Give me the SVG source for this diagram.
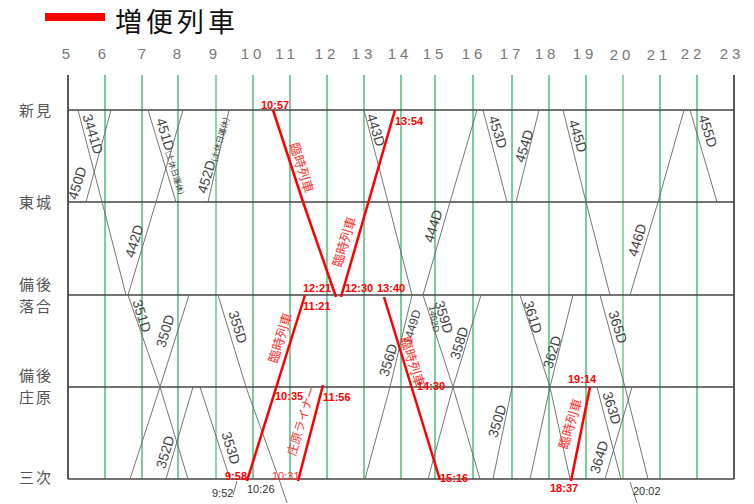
<svg xmlns="http://www.w3.org/2000/svg" width="754" height="504" viewBox="0 0 754 504">
<style>
.hr{font-family:"Liberation Sans",Arial,sans-serif;font-size:15px;fill:#777;text-anchor:middle;letter-spacing:4px}
.st{font-family:"Noto Sans CJK JP","Noto Sans",sans-serif;font-size:15px;letter-spacing:2px;fill:#555}
.gl{stroke:#4cbf7a;stroke-width:1.5}
.gl2{stroke:#8fd8a8;stroke-width:2}
.sl{stroke:#444;stroke-width:1.3}
.ax{stroke:#222;stroke-width:1.5}
.tr{fill:none;stroke:#666;stroke-width:0.9}
.tl{font-family:"Liberation Sans",Arial,sans-serif;font-size:14px;fill:#444;text-anchor:middle}
.ts{font-family:"Noto Sans CJK JP",sans-serif;font-size:8px;fill:#444}
.rl{fill:none;stroke:#f00;stroke-width:2.5}
.rlab{font-family:"Noto Sans CJK JP",sans-serif;font-size:13px;fill:#f33;text-anchor:middle}
.rt{font-family:"Liberation Sans",Arial,sans-serif;font-size:11px;font-weight:bold;fill:#f00}
.rtn{font-family:"Liberation Sans",Arial,sans-serif;font-size:11px;fill:#f33}
.bt{font-family:"Liberation Sans",Arial,sans-serif;font-size:11px;fill:#333}
</style>
<g id="legend">
<rect x="45" y="13" width="60" height="8" fill="#f00"/>
<text x="115" y="32" font-family="Noto Sans CJK JP,sans-serif" font-size="27" letter-spacing="4" fill="#111">増便列車</text>
</g>
<g id="hours">
<text class="hr" x="68" y="59">5</text>
<text class="hr" x="104" y="59">6</text>
<text class="hr" x="144" y="59">7</text>
<text class="hr" x="179" y="59">8</text>
<text class="hr" x="215" y="59">9</text>
<text class="hr" x="253" y="59">10</text>
<text class="hr" x="287" y="59">11</text>
<text class="hr" x="327" y="59">12</text>
<text class="hr" x="364" y="59">13</text>
<text class="hr" x="400" y="59">14</text>
<text class="hr" x="435" y="59">15</text>
<text class="hr" x="474" y="59">16</text>
<text class="hr" x="512" y="59">17</text>
<text class="hr" x="547" y="59">18</text>
<text class="hr" x="585" y="59">19</text>
<text class="hr" x="622" y="60">20</text>
<text class="hr" x="659" y="60">21</text>
<text class="hr" x="693" y="59">22</text>
<text class="hr" x="732" y="59">23</text>
</g>
<g id="grid">
<line class="gl" x1="105" y1="75" x2="105" y2="479"/>
<line class="gl" x1="142" y1="75" x2="142" y2="479"/>
<line class="gl" x1="178" y1="75" x2="178" y2="479"/>
<line class="gl2" x1="216" y1="75" x2="216" y2="479"/>
<line class="gl" x1="253" y1="75" x2="253" y2="479"/>
<line class="gl" x1="290" y1="75" x2="290" y2="479"/>
<line class="gl" x1="327" y1="75" x2="327" y2="479"/>
<line class="gl" x1="364" y1="75" x2="364" y2="479"/>
<line class="gl" x1="401" y1="75" x2="401" y2="479"/>
<line class="gl" x1="435" y1="75" x2="435" y2="479"/>
<line class="gl" x1="473" y1="75" x2="473" y2="479"/>
<line class="gl" x1="512" y1="75" x2="512" y2="479"/>
<line class="gl" x1="549" y1="75" x2="549" y2="479"/>
<line class="gl" x1="586" y1="75" x2="586" y2="479"/>
<line class="gl2" x1="623" y1="75" x2="623" y2="479"/>
<line class="gl" x1="660" y1="75" x2="660" y2="479"/>
<line class="gl" x1="697" y1="75" x2="697" y2="479"/>
<line class="ax" x1="68" y1="75" x2="68" y2="479"/>
<line class="ax" x1="734" y1="75" x2="734" y2="479"/>
</g>
<g id="st-niimi"><line class="sl" x1="68" y1="110" x2="734" y2="110"/><text class="st" x="19" y="116">新見</text></g>
<g id="st-tojo"><line class="sl" x1="68" y1="202" x2="734" y2="202"/><text class="st" x="19" y="208">東城</text></g>
<g id="st-bingo-ochiai"><line class="sl" x1="68" y1="295" x2="734" y2="295"/><text class="st"><tspan x="19" y="290">備後</tspan><tspan x="19" y="312">落合</tspan></text></g>
<g id="st-bingo-shobara"><line class="sl" x1="68" y1="387" x2="734" y2="387"/><text class="st"><tspan x="19" y="381">備後</tspan><tspan x="19" y="403">庄原</tspan></text></g>
<g id="st-miyoshi"><line class="sl" x1="68" y1="479" x2="734" y2="479"/><text class="st" x="19" y="483">三次</text></g>
<g id="connectors">
<g id="t3441D"><polyline class="tr" points="78,110 102,202 126,295"/><text class="tl" transform="translate(93,134) rotate(73)" dy="5">3441D</text></g>
<g id="t450D"><polyline class="tr" points="86,202 111,110"/><text class="tl" transform="translate(77,183) rotate(-73)" dy="5">450D</text></g>
<g id="t451D"><polyline class="tr" points="148,110 176,202"/><text class="tl" transform="translate(172,156) rotate(73)" dy="5">451D<tspan class="ts">(土休日運休)</tspan></text></g>
<g id="t442D"><polyline class="tr" points="128,295 156,202 183,110"/><text class="tl" transform="translate(134,241) rotate(-73)" dy="5">442D</text></g>
<g id="t452D"><polyline class="tr" points="208,202 229,110"/><text class="tl" transform="translate(213,155) rotate(-73)" dy="5">452D<tspan class="ts">(土休日運休)</tspan></text></g>
<g id="t351D"><polyline class="tr" points="128,295 160,387 188,479"/><text class="tl" transform="translate(142,316) rotate(73)" dy="5">351D</text></g>
<g id="t350D-1"><polyline class="tr" points="130,479 160,387 189,295"/><text class="tl" transform="translate(165,331) rotate(-73)" dy="5">350D</text></g>
<g id="t352D"><polyline class="tr" points="166,479 193,387"/><text class="tl" transform="translate(165,452) rotate(-73)" dy="5">352D</text></g>
<g id="t353D"><polyline class="tr" points="200,387 230,479"/><polyline class="tr" points="237,481 233,495"/><text class="tl" transform="translate(231,448) rotate(73)" dy="5">353D</text></g>
<g id="t355D"><polyline class="tr" points="218,295 246,387 279,479 287,503"/><text class="tl" transform="translate(238,327) rotate(73)" dy="5">355D</text></g>
<g id="t443D"><polyline class="tr" points="364,110 388,202 412,295"/><text class="tl" transform="translate(376,130) rotate(73)" dy="5">443D</text></g>
<g id="t444D"><polyline class="tr" points="423,295 450,202 477,110"/><text class="tl" transform="translate(433,226) rotate(-73)" dy="5">444D</text></g>
<g id="t356D"><polyline class="tr" points="365,479 390,387 412,295"/><text class="tl" transform="translate(388,360) rotate(-73)" dy="5">356D</text><text class="tl" style="font-size:12px" transform="translate(412,327) rotate(-73)" dy="4">1449D</text></g>
<g id="t359D"><polyline class="tr" points="423,295 453,387 480,479"/><text class="tl" transform="translate(444,317) rotate(73)" dy="5">359D</text><text class="tl" style="font-size:9px" transform="translate(434,319) rotate(80)" dy="3">1462D</text></g>
<g id="t358D"><polyline class="tr" points="428,479 453,387 481,295"/><text class="tl" transform="translate(459,343) rotate(-73)" dy="5">358D</text></g>
<g id="t453D"><polyline class="tr" points="483,110 507,202"/><text class="tl" transform="translate(498,132) rotate(73)" dy="5">453D</text></g>
<g id="t454D"><polyline class="tr" points="516,202 539,110"/><text class="tl" transform="translate(524,146) rotate(-73)" dy="5">454D</text></g>
<g id="t445D"><polyline class="tr" points="563,110 586,202 610,295"/><text class="tl" transform="translate(578,136) rotate(73)" dy="5">445D</text></g>
<g id="t446D"><polyline class="tr" points="630,295 658,202 684,110"/><text class="tl" transform="translate(637,240) rotate(-73)" dy="5">446D</text></g>
<g id="t455D"><polyline class="tr" points="690,110 717,202"/><text class="tl" transform="translate(708,131) rotate(73)" dy="5">455D</text></g>
<g id="t361D"><polyline class="tr" points="520,295 550,387 570,479"/><text class="tl" transform="translate(533,317) rotate(73)" dy="5">361D</text></g>
<g id="t362D"><polyline class="tr" points="530,479 550,387 573,295"/><text class="tl" transform="translate(552,352) rotate(-73)" dy="5">362D</text></g>
<g id="t350D-2"><polyline class="tr" points="493,479 512,387"/><text class="tl" transform="translate(497,421) rotate(-73)" dy="5">350D</text></g>
<g id="t365D"><polyline class="tr" points="600,295 625,387 648,479"/><text class="tl" transform="translate(618,327) rotate(73)" dy="5">365D</text></g>
<g id="t363D"><polyline class="tr" points="597,387 621,479"/><polyline class="tr" points="630,482 637,503"/><text class="tl" transform="translate(612,408) rotate(73)" dy="5">363D</text></g>
<g id="t364D"><polyline class="tr" points="605,479 632,387"/><text class="tl" transform="translate(599,457) rotate(-73)" dy="5">364D</text></g>
<g id="r1"><polyline class="rl" points="273,110 303,202 336,297"/><text class="rlab" transform="translate(301,168) rotate(73)" dy="4">臨時列車</text></g>
<g id="r2"><polyline class="rl" points="341,297 395,110"/><text class="rlab" transform="translate(345,242) rotate(-73)" dy="4">臨時列車</text></g>
<g id="r3"><polyline class="rl" points="384,297 440,480"/><text class="rlab" transform="translate(412,362) rotate(73)" dy="4">臨時列車</text></g>
<g id="r4"><polyline class="rl" points="247,481 305,295"/><text class="rlab" transform="translate(281,338) rotate(-73)" dy="4">臨時列車</text></g>
<g id="r5"><polyline class="rl" points="298,481 323,385"/><text class="rlab" style="font-size:12px" transform="translate(302,421) rotate(-73)" dy="4">庄原ライナー</text></g>
<g id="r6"><polyline class="rl" points="571,481 590,387"/><text class="rlab" transform="translate(571,424) rotate(-73)" dy="4">臨時列車</text></g>
</g>
<g id="times">
<text class="rt" x="261" y="109">10:57</text>
<text class="rt" x="395" y="125">13:54</text>
<text class="rt" x="303" y="292">12:21</text>
<text class="rt" x="303" y="310">11:21</text>
<text class="rt" x="345" y="292">12:30</text>
<text class="rt" x="377" y="292">13:40</text>
<text class="rt" x="417" y="390">14:30</text>
<text class="rt" x="440" y="482">15:16</text>
<text class="rt" x="275" y="400">10:35</text>
<text class="rt" x="323" y="401">11:56</text>
<text class="rtn" x="272" y="480">10:31</text>
<text class="rt" x="225" y="480">9:58</text>
<text class="rt" x="568" y="383">19:14</text>
<text class="rt" x="550" y="492">18:37</text>
<text class="bt" x="212" y="497">9:52</text>
<text class="bt" x="247" y="493">10:26</text>
<text class="bt" x="633" y="495">20:02</text>
</g>
</svg>
